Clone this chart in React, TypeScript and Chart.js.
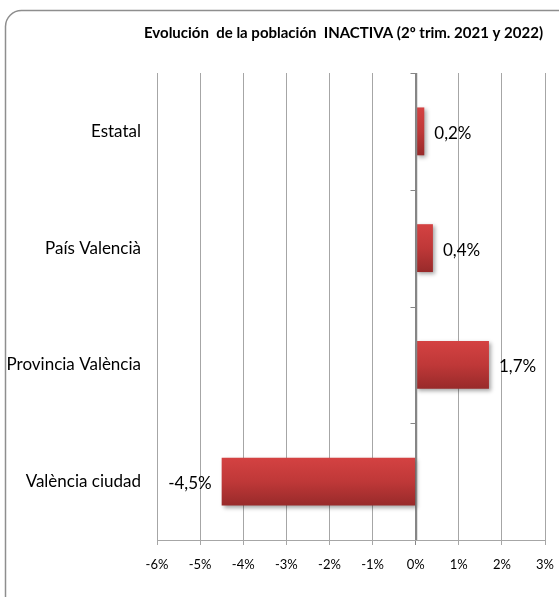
import React, { useEffect, useRef } from "react";
import { Chart, registerables } from "chart.js";

Chart.register(...registerables);

const categories = ["Estatal", "País Valencià", "Provincia València", "València ciudad"];
const values = [0.2, 0.4, 1.7, -4.5];
const valueLabels = ["0,2%", "0,4%", "1,7%", "-4,5%"];
const xMin = -6;
const xMax = 3;
const titleText = "Evolución  de la población  INACTIVA (2º trim. 2021 y 2022)";

const FONT = "Lato, 'Open Sans', sans-serif";
const BAR_FRACTION = 0.41;

export default function App() {
  const ref = useRef<HTMLCanvasElement | null>(null);

  useEffect(() => {
    document.body.style.margin = "0";
    const canvas = ref.current;
    if (!canvas) return;

    const framePlugin = {
      id: "frame",
      beforeDraw(chart: any) {
        const ctx = chart.ctx;
        ctx.save();
        ctx.fillStyle = "#ffffff";
        ctx.fillRect(0, 0, chart.width, chart.height);
        const x = 5.5, y = 10.5, w = 600, h = 620, r = 16;
        ctx.beginPath();
        ctx.moveTo(x + r, y);
        ctx.lineTo(x + w - r, y);
        ctx.arcTo(x + w, y, x + w, y + r, r);
        ctx.lineTo(x + w, y + h - r);
        ctx.arcTo(x + w, y + h, x + w - r, y + h, r);
        ctx.lineTo(x + r, y + h);
        ctx.arcTo(x, y + h, x, y + h - r, r);
        ctx.lineTo(x, y + r);
        ctx.arcTo(x, y, x + r, y, r);
        ctx.closePath();
        ctx.strokeStyle = "#8e8e8e";
        ctx.lineWidth = 1.5;
        ctx.stroke();
        ctx.restore();
      },
    };

    const shadowPlugin = {
      id: "barShadow",
      beforeDatasetsDraw(chart: any) {
        const ctx = chart.ctx;
        ctx.save();
        ctx.shadowColor = "rgba(0,0,0,0.35)";
        ctx.shadowBlur = 4;
        ctx.shadowOffsetX = 2;
        ctx.shadowOffsetY = 2;
      },
      afterDatasetsDraw(chart: any) {
        chart.ctx.restore();
        const ctx = chart.ctx;
        const meta = chart.getDatasetMeta(0);
        ctx.save();
        ctx.font = `17px ${FONT}`;
        ctx.fillStyle = "#000";
        ctx.textBaseline = "middle";
        meta.data.forEach((el: any, i: number) => {
          const v = values[i];
          if (v >= 0) {
            ctx.textAlign = "left";
            ctx.fillText(valueLabels[i], el.x + 10, el.y + 2);
          } else {
            ctx.textAlign = "right";
            ctx.fillText(valueLabels[i], el.x - 10, el.y + 2);
          }
        });
        const xs = chart.scales.x;
        const ys = chart.scales.y;
        const x0 = Math.round(xs.getPixelForValue(0)) + 0.5;
        ctx.strokeStyle = "#868686";
        ctx.lineWidth = 1;
        for (let i = 0; i < categories.length; i++) {
          const yy = Math.round(ys.getPixelForValue(i - 0.5)) + 0.5;
          ctx.beginPath();
          ctx.moveTo(x0 - 6, yy);
          ctx.lineTo(x0, yy);
          ctx.stroke();
        }
        ctx.beginPath();
        ctx.moveTo(x0, chart.chartArea.top);
        ctx.lineTo(x0, chart.chartArea.bottom);
        ctx.lineWidth = 1.5;
        ctx.stroke();
        ctx.restore();
      },
    };

    const titlePlugin = {
      id: "customTitle",
      afterDraw(chart: any) {
        const ctx = chart.ctx;
        ctx.save();
        ctx.font = `bold 15px ${FONT}`;
        ctx.fillStyle = "#000";
        ctx.textAlign = "right";
        ctx.textBaseline = "middle";
        ctx.fillText(titleText, chart.chartArea.right - 2, 33);
        ctx.restore();
      },
    };

    const chart = new Chart(canvas, {
      type: "bar",
      data: {
        labels: categories,
        datasets: [
          {
            data: values,
            categoryPercentage: 1,
            barPercentage: BAR_FRACTION,
            borderWidth: 0,
            backgroundColor: (c: any) => {
              const ch = c.chart;
              const ys = ch.scales && ch.scales.y;
              if (!ys || !ch.chartArea || c.dataIndex === undefined) return "#c03a3a";
              const center = ys.getPixelForValue(c.dataIndex);
              const half = (Math.abs(ys.getPixelForValue(1) - ys.getPixelForValue(0)) * BAR_FRACTION) / 2;
              if (!isFinite(center) || !isFinite(half)) return "#c03a3a";
              const g = ch.ctx.createLinearGradient(0, center - half, 0, center + half);
              g.addColorStop(0, "#d44242");
              g.addColorStop(0.5, "#bf3838");
              g.addColorStop(1, "#982a2a");
              return g;
            },
          },
        ],
      },
      options: {
        indexAxis: "y",
        responsive: false,
        animation: false,
        layout: { padding: { top: 73, right: 14, left: 0, bottom: 0 } },
        plugins: {
          legend: { display: false },
          title: { display: false },
          tooltip: { enabled: false },
        },
        scales: {
          x: {
            min: xMin,
            max: xMax,
            afterFit: (s: any) => {
              s.height = 57;
              s.paddingLeft = 0;
              s.paddingRight = 0;
            },
            ticks: {
              stepSize: 1,
              padding: 12,
              maxRotation: 0,
              color: "#000",
              font: { family: FONT, size: 13 },
              callback: (v: any) => `${v}%`,
            },
            grid: {
              drawTicks: true,
              tickLength: 5,
              color: (c: any) => (c.tick && c.tick.value === 0 ? "#868686" : "#a6a6a6"),
              lineWidth: 1,
            },
            border: { display: true, color: "#a6a6a6" },
          },
          y: {
            afterFit: (s: any) => {
              s.width = 157;
              s.paddingTop = 0;
              s.paddingBottom = 0;
            },
            ticks: {
              padding: 8,
              color: "#000",
              font: { family: FONT, size: 17 },
            },
            grid: { display: false },
            border: { display: false },
          },
        },
      },
      plugins: [framePlugin, shadowPlugin, titlePlugin],
    } as any);

    return () => chart.destroy();
  }, []);

  return <canvas ref={ref} width={559} height={597} style={{ display: "block" }} />;
}
